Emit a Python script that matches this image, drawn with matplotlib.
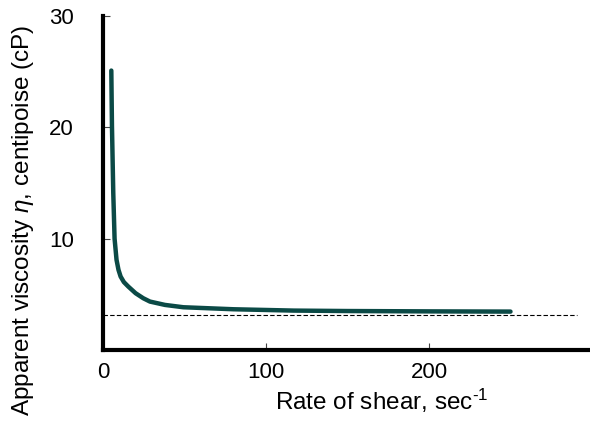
import matplotlib
matplotlib.use("Agg")
import matplotlib.pyplot as plt

plt.rcParams['font.family'] = ['Liberation Sans', 'DejaVu Sans']
plt.rcParams['mathtext.fontset'] = 'custom'
plt.rcParams['mathtext.it'] = 'Liberation Sans:italic'
plt.rcParams['mathtext.rm'] = 'Liberation Sans'

# Data
shear_rate = [5.1, 5.5, 6.3, 7.1, 8.3, 9.5, 10.8, 12.8, 15.5, 20, 24.7, 28.8, 38, 49.3, 80, 117, 150, 200, 250]
viscosity = [25.1, 20.1, 14.1, 10.0, 8.1, 7.2, 6.6, 6.1, 5.7, 5.1, 4.65, 4.35, 4.05, 3.84, 3.66, 3.54, 3.5, 3.47, 3.45]
asymptote_x = [0, 291]
asymptote_y = [3.1, 3.1]

x_ticks = [0, 100, 200]
y_ticks = [10, 20, 30]

W, H = 590, 424
fig = plt.figure(figsize=(W / 100, H / 100), dpi=100)
ax = fig.add_axes([103 / W, 1 - 350 / H, (592 - 103) / W, (350 - 16) / H])

ax.plot(shear_rate, viscosity, color='#0b4a46', lw=3.2, solid_capstyle='round',
        solid_joinstyle='round', zorder=3)
ax.plot(asymptote_x, asymptote_y, color='black', lw=0.8, ls=(0, (4, 2)), zorder=2)

ax.set_xlim(0, 300)
ax.set_ylim(0, 30)
ax.set_xticks(x_ticks)
ax.set_yticks(y_ticks)
ax.tick_params(direction='in', length=5, width=0.8, color='#444444', labelsize=16)
ax.tick_params(axis='x', pad=9)
ax.tick_params(axis='y', pad=21)

for s in ['top', 'right']:
    ax.spines[s].set_visible(False)
for s in ['left', 'bottom']:
    ax.spines[s].set_linewidth(3)

ax.set_xlabel(r'Rate of shear, sec$^{\text{-1}}$', fontsize=17.5)
ax.set_ylabel(r'Apparent viscosity $\eta$, centipoise (cP)', fontsize=17.5)
ax.xaxis.set_label_coords((382 - 103) / 489, (350 - 387) / 334)
ax.yaxis.set_label_coords((36 - 103) / 489, (350 - 220) / 334)

fig.savefig('out.png', dpi=100)
